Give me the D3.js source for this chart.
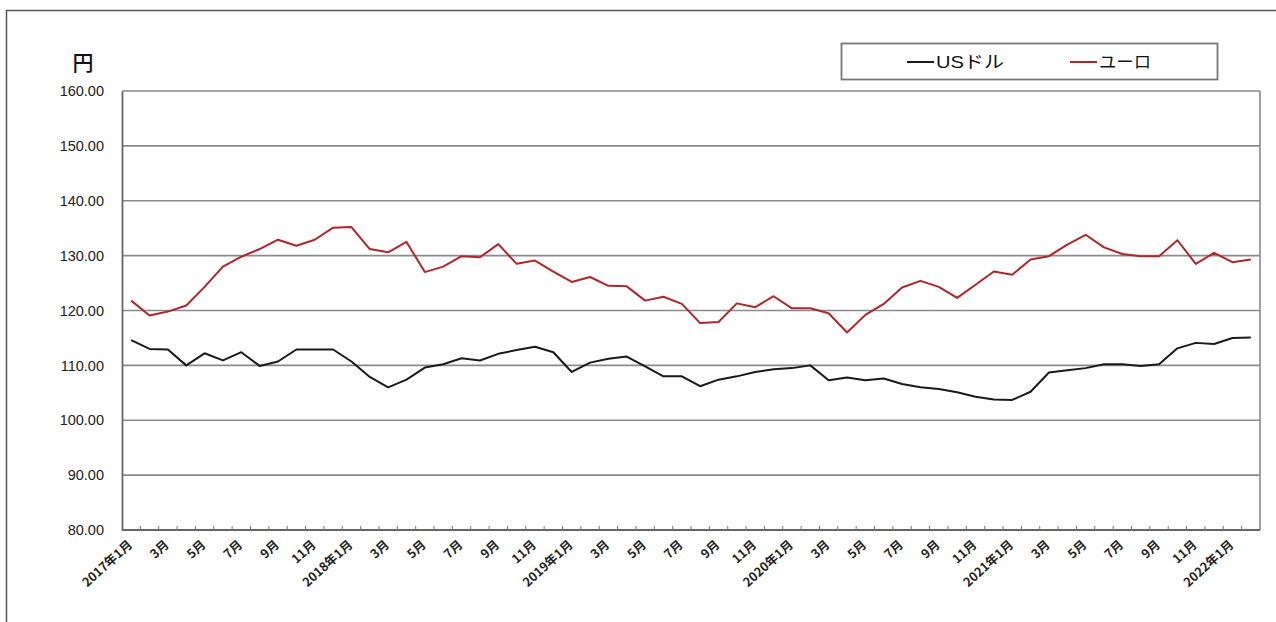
<!DOCTYPE html>
<html>
<head>
<meta charset="utf-8">
<script src="https://cdn.jsdelivr.net/npm/d3@7/dist/d3.min.js"></script>
<style>
  html, body { margin: 0; padding: 0; background: #fff; }
  svg { display: block; }
</style>
</head>
<body>
<svg id="chart" width="1276" height="622"></svg>
<script>
const categories = [
  "2017年1月","2月","3月","4月","5月","6月","7月","8月","9月","10月","11月","12月",
  "2018年1月","2月","3月","4月","5月","6月","7月","8月","9月","10月","11月","12月",
  "2019年1月","2月","3月","4月","5月","6月","7月","8月","9月","10月","11月","12月",
  "2020年1月","2月","3月","4月","5月","6月","7月","8月","9月","10月","11月","12月",
  "2021年1月","2月","3月","4月","5月","6月","7月","8月","9月","10月","11月","12月",
  "2022年1月","2月"
];
const usd = [
  114.6,113.0,112.9,110.0,112.2,110.9,112.4,109.9,110.7,112.9,112.9,112.9,
  110.7,107.9,106.0,107.4,109.6,110.2,111.3,110.9,112.1,112.8,113.4,112.4,
  108.8,110.5,111.2,111.6,109.8,108.0,108.0,106.2,107.4,108.0,108.8,109.3,
  109.5,110.0,107.3,107.8,107.3,107.6,106.6,106.0,105.7,105.1,104.3,103.8,
  103.7,105.2,108.7,109.1,109.5,110.2,110.2,109.9,110.2,113.1,114.1,113.9,
  115.0,115.1
];
const eur = [
  121.8,119.1,119.8,120.9,124.3,128.0,129.8,131.2,132.9,131.8,132.9,135.1,
  135.2,131.2,130.6,132.5,127.0,128.0,129.9,129.7,132.1,128.5,129.1,127.1,
  125.2,126.1,124.5,124.4,121.8,122.5,121.2,117.7,117.9,121.3,120.6,122.6,
  120.4,120.4,119.5,116.0,119.2,121.2,124.2,125.4,124.3,122.3,124.7,127.1,
  126.5,129.3,129.9,132.0,133.8,131.5,130.3,129.9,129.9,132.8,128.5,130.5,
  128.8,129.3
];
const yTicks = [80, 90, 100, 110, 120, 130, 140, 150, 160];
const seriesNames = ["USドル", "ユーロ"];
const seriesColors = ["#1a1a1a", "#b0262b"];

const svg = d3.select("#chart");
const pL = 122, pR = 1260, pT = 91, pB = 530;

// outer frame (top/left visible)
svg.append("rect").attr("x", 6.5).attr("y", 10.5).attr("width", 1290).attr("height", 640)
  .attr("fill", "none").attr("stroke", "#555").attr("stroke-width", 1.5);

const x = d3.scaleBand().domain(d3.range(categories.length)).range([pL, pR]).padding(0);
const y = d3.scaleLinear().domain([80, 160]).range([pB, pT]);

// gridlines
svg.append("g").selectAll("line").data(yTicks.filter(d => d > 80)).join("line")
  .attr("x1", pL).attr("x2", pR)
  .attr("y1", d => y(d)).attr("y2", d => y(d))
  .attr("stroke", "#8a8a8a").attr("stroke-width", 1.6);

// plot border right
svg.append("line").attr("x1", pR).attr("x2", pR).attr("y1", pT).attr("y2", pB)
  .attr("stroke", "#8a8a8a").attr("stroke-width", 1.6);

// y axis
const yAxis = d3.axisLeft(y).tickValues(yTicks).tickFormat(d3.format(".2f")).tickSize(0).tickPadding(18);
const gy = svg.append("g").attr("transform", `translate(${pL},0)`).call(yAxis);
gy.select(".domain").attr("stroke", "#666").attr("stroke-width", 1.8);
gy.selectAll("text").attr("font-family", "'Liberation Sans', Arial, sans-serif")
  .attr("font-size", 14.5).attr("fill", "#222");

// x axis ticks at category boundaries (pointing up)
const gx = svg.append("g");
gx.append("line").attr("x1", pL).attr("x2", pR).attr("y1", pB).attr("y2", pB)
  .attr("stroke", "#666").attr("stroke-width", 1.8);
gx.selectAll("line.tk").data(d3.range(1, categories.length)).join("line").attr("class", "tk")
  .attr("x1", i => x(i)).attr("x2", i => x(i))
  .attr("y1", pB).attr("y2", pB - 4)
  .attr("stroke", "#777").attr("stroke-width", 1);

// x labels
gx.selectAll("text").data(d3.range(0, categories.length, 2)).join("text")
  .attr("transform", i => `translate(${x(i) + x.bandwidth() / 2 + 2},${pB + 16}) rotate(-42)`)
  .attr("text-anchor", "end")
  .attr("font-family", "'Noto Sans CJK JP', sans-serif")
  .attr("font-weight", "bold")
  .attr("font-size", 12.5)
  .attr("fill", "#222")
  .text(i => categories[i]);

// unit label
svg.append("text").attr("x", 83).attr("y", 70).attr("text-anchor", "middle")
  .attr("font-family", "'Noto Sans CJK JP', sans-serif").attr("font-size", 21)
  .attr("font-weight", "500")
  .attr("fill", "#111").text("円");

// lines
const line = d3.line().x((d, i) => x(i) + x.bandwidth() / 2).y(d => y(d));
[usd, eur].forEach((s, k) => {
  svg.append("path").datum(s).attr("d", line)
    .attr("fill", "none").attr("stroke", seriesColors[k]).attr("stroke-width", 2)
    .attr("stroke-linejoin", "round");
});

// legend
const lg = svg.append("g");
lg.append("rect").attr("x", 841.5).attr("y", 43.5).attr("width", 376).attr("height", 36)
  .attr("fill", "#fff").attr("stroke", "#777").attr("stroke-width", 1.8);
const legX = [907, 1070];
const legW = [68, 52];
seriesNames.forEach((n, k) => {
  lg.append("line").attr("x1", legX[k]).attr("x2", legX[k] + 27).attr("y1", 62).attr("y2", 62)
    .attr("stroke", seriesColors[k]).attr("stroke-width", 2);
  lg.append("text").attr("x", legX[k] + 29).attr("y", 68)
    .attr("font-family", "'Liberation Sans', 'Noto Sans CJK JP', sans-serif").attr("font-size", 17)
    .attr("textLength", legW[k]).attr("lengthAdjust", "spacingAndGlyphs")
    .attr("fill", "#111").text(n);
});
</script>
</body>
</html>
